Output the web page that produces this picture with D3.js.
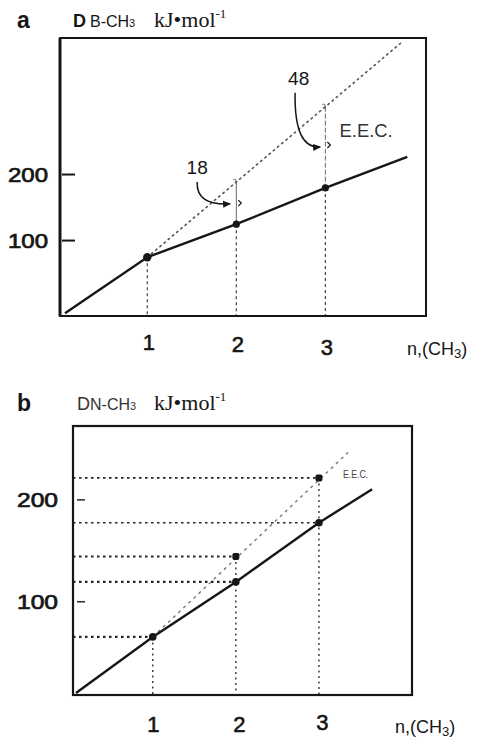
<!DOCTYPE html>
<html><head><meta charset="utf-8">
<script src="https://cdn.jsdelivr.net/npm/d3@7/dist/d3.min.js"></script>
<style>body{margin:0;background:#fff}</style>
</head><body><svg id="c" width="481" height="740"></svg>
<script>
// ---------- data ----------
const nTicks = [1, 2, 3];
const yTickValues = [100, 200];
const xAxisTitle = "n,(CH";
// panel a : D(B-CH3)
const aMeasured = [74, 124, 179];                 // solid points at n = 1,2,3
const aSolidLine = [[0.076, -11], [1, 74], [2, 124], [3, 179], [3.92, 226]];
const aEECLine = [[1, 74], [3.87, 401]];          // dotted extrapolation
const aEECAtN = [74, 188, 302];                   // dotted line value at n = 1,2,3
const aGapLabels = ["18", "48"];
const aGapN = [2, 3];
const aArrowStart = [[1.56, 188], [2.66, 323]];
const aArrowEnd = [[1.93, 155], [2.94, 241]];
const aLabelPos = [[1.56, 200], [2.70, 335]];
const aMarkValue = [156, 244];
const aEECLabelPos = [3.16, 256];
// panel b : D(N-CH3)
const bMeasured = [65, 119, 177];
const bSolidLine = [[0.076, 10], [1, 65], [2, 119], [3, 177], [3.64, 210]];
const bEEC = [65, 144, 221];
const bEECLine = [[1, 65], [3.35, 246]];
const bEECLabelPos = [3.29, 221];

// ---------- setup ----------
const svg = d3.select("#c");
const sans = "'Liberation Sans', Arial, Helvetica, sans-serif";
const serif = "'Liberation Serif', 'Times New Roman', serif";
const ink = "#161616";

const defs = svg.append("defs");
defs.append("marker").attr("id", "ah").attr("viewBox", "0 0 8 8")
  .attr("refX", 7).attr("refY", 4).attr("markerWidth", 8).attr("markerHeight", 8)
  .attr("markerUnits", "userSpaceOnUse").attr("orient", "auto")
  .append("path").attr("d", "M0,0.5 L8,4 L0,7.5 Z").attr("fill", ink);

function title(g, letter, base, dWeight, subColor, y) {
  g.append("text").attr("x", 17).attr("y", y + 1).attr("font-family", sans)
    .attr("font-weight", "bold").attr("font-size", 23).attr("fill", ink).text(letter);
  const t = g.append("text").attr("x", letter === "b" ? 77 : 73).attr("y", y)
    .attr("font-family", sans).attr("fill", subColor);
  t.append("tspan").attr("font-size", 18).attr("font-weight", dWeight).text("D");
  t.append("tspan").attr("font-size", 16).attr("dx", letter === "a" ? 4 : 0).text(base);
  t.append("tspan").attr("font-size", 11).text("3");
  const u = g.append("text").attr("x", 154).attr("y", y).attr("font-family", serif)
    .attr("font-size", 22).attr("fill", ink);
  u.append("tspan").text("kJ\u2022mol");
  u.append("tspan").attr("font-size", 13).attr("dy", -9).text("-1");
}

function xTitle(g, x, y) {
  const t = g.append("text").attr("x", x).attr("y", y).attr("font-family", sans)
    .attr("font-size", 18).attr("fill", ink);
  t.append("tspan").text(xAxisTitle);
  t.append("tspan").attr("font-size", 13).attr("dy", 3).text("3");
  t.append("tspan").attr("dy", -3).text(")");
}

function lineGen(x, y) { return d3.line().x(d => x(d[0])).y(d => y(d[1])); }

// ================= PANEL A =================
const xA = d3.scaleLinear().domain([0.02, 4.13]).range([60, 426]);
const yA = d3.scaleLinear().domain([-15, 406]).range([316, 38]);
const gA = svg.append("g");
title(gA, "a", "B-CH", "bold", ink, 27);

// vertical dashed drop lines
gA.selectAll(".drop").data(nTicks).join("line")
  .attr("x1", d => xA(d)).attr("x2", d => xA(d))
  .attr("y1", (d, i) => yA(aMeasured[i])).attr("y2", yA(yA.domain()[0]))
  .attr("stroke", "#444").attr("stroke-width", 1.2).attr("stroke-dasharray", "3,3");
// E.E.C. gap lines above points
gA.selectAll(".gap").data(aGapN).join("line")
  .attr("x1", d => xA(d)).attr("x2", d => xA(d))
  .attr("y1", (d, i) => yA(aEECAtN[d - 1])).attr("y2", d => yA(aMeasured[d - 1]))
  .attr("stroke", "#666").attr("stroke-width", 1).attr("stroke-dasharray", (d, i) => i === 0 ? null : "5,2");
// small hooks at top of gap lines
gA.selectAll(".hook").data(aGapN).join("path")
  .attr("d", d => `M${xA(d) - 3},${yA(aEECAtN[d - 1]) - 2} q3,-2 3,3`)
  .attr("fill", "none").attr("stroke", "#555").attr("stroke-width", 1);
// small ">" marks
gA.selectAll(".mark").data(aGapN).join("path")
  .attr("d", (d, i) => `M${xA(d) + 2},${yA(aMarkValue[i]) - 3} l3,3 l-3,3`)
  .attr("fill", "none").attr("stroke", ink).attr("stroke-width", 1.2);

// dotted extrapolation
gA.append("path").datum(aEECLine).attr("d", lineGen(xA, yA))
  .attr("fill", "none").attr("stroke", "#555").attr("stroke-width", 1.6)
  .attr("stroke-dasharray", "1.5,4").attr("stroke-linecap", "round");
// solid line
gA.append("path").datum(aSolidLine).attr("d", lineGen(xA, yA))
  .attr("fill", "none").attr("stroke", ink).attr("stroke-width", 2.4);
// points
gA.selectAll(".pt").data(aMeasured).join("circle")
  .attr("cx", (d, i) => xA(nTicks[i])).attr("cy", d => yA(d))
  .attr("r", (d, i) => i === 0 ? 4.2 : 3.6).attr("fill", ink);

// arrows
gA.selectAll(".arr").data(aArrowStart).join("path")
  .attr("d", (d, i) => {
    const p = d3.path();
    const s = [xA(d[0]), yA(d[1])], e = [xA(aArrowEnd[i][0]), yA(aArrowEnd[i][1])];
    p.moveTo(s[0], s[1]);
    p.quadraticCurveTo(s[0] - 1, e[1] + 2, e[0], e[1]);
    return p.toString();
  })
  .attr("fill", "none").attr("stroke", ink).attr("stroke-width", 1.5).attr("marker-end", "url(#ah)");
gA.selectAll(".gl").data(aGapLabels).join("text")
  .attr("x", (d, i) => xA(aLabelPos[i][0])).attr("y", (d, i) => yA(aLabelPos[i][1]))
  .attr("text-anchor", "middle").attr("font-family", sans).attr("font-size", 19)
  .attr("fill", ink).text(d => d);
gA.append("text").attr("x", xA(aEECLabelPos[0])).attr("y", yA(aEECLabelPos[1]))
  .attr("font-family", sans).attr("font-size", 18).attr("fill", "#333")
  .attr("textLength", 53).attr("lengthAdjust", "spacingAndGlyphs").text("E.E.C.");

// frame
gA.append("rect").attr("x", xA.range()[0]).attr("y", yA.range()[1])
  .attr("width", xA.range()[1] - xA.range()[0]).attr("height", yA.range()[0] - yA.range()[1])
  .attr("fill", "none").attr("stroke", ink).attr("stroke-width", 2);
gA.append("line").attr("x1", xA.range()[0]).attr("x2", xA.range()[0])
  .attr("y1", yA.range()[1]).attr("y2", yA.range()[0]).attr("stroke", ink).attr("stroke-width", 3);

// axes
const axA = gA.append("g").attr("transform", `translate(${xA.range()[0] + 2},0)`)
  .call(d3.axisLeft(yA).tickValues(yTickValues).tickSize(-13).tickPadding(14).tickFormat(d3.format("d")));
axA.select(".domain").remove();
axA.selectAll("line").attr("stroke", ink).attr("stroke-width", 2);
axA.selectAll("text").attr("font-family", sans).attr("font-size", 20).attr("fill", ink)
  .attr("stroke", ink).attr("stroke-width", 0.7)
  .attr("textLength", 40).attr("lengthAdjust", "spacingAndGlyphs").attr("dy", "0.36em");
const bxA = gA.append("g").attr("transform", `translate(0,${yA.range()[0]})`)
  .call(d3.axisBottom(xA).tickValues(nTicks).tickSize(0).tickPadding(18).tickFormat(d3.format("d")));
bxA.select(".domain").remove();
bxA.selectAll("text").attr("font-family", sans).attr("font-size", 22).attr("fill", ink)
  .attr("stroke", ink).attr("stroke-width", 0.6)
  .attr("transform", (d, i) => `translate(1,${[0, 2, 5][i]})`);
xTitle(gA, 407, 355);

// ================= PANEL B =================
const xB = d3.scaleLinear().domain([0.04, 4.12]).range([73, 412]);
const yB = d3.scaleLinear().domain([8, 272]).range([695, 426]);
const gB = svg.append("g");
title(gB, "b", "N-CH", "normal", "#333", 410);

// horizontal dotted guides
const hLevels = [bMeasured[0], bMeasured[1], bEEC[1], bMeasured[2], bEEC[2]];
const hN = [1, 2, 2, 3, 3];
const hW = [2.2, 2.4, 2, 1.6, 1.8];
gB.selectAll(".h").data(hLevels).join("line")
  .attr("x1", xB.range()[0]).attr("x2", (d, i) => xB(hN[i]))
  .attr("y1", d => yB(d)).attr("y2", d => yB(d))
  .attr("stroke", "#222").attr("stroke-width", (d, i) => hW[i]).attr("stroke-dasharray", "2.5,3.5");
// vertical dotted drops
gB.selectAll(".v").data(nTicks).join("line")
  .attr("x1", d => xB(d)).attr("x2", d => xB(d))
  .attr("y1", (d, i) => yB(bEEC[i])).attr("y2", yB(yB.domain()[0]))
  .attr("stroke", "#333").attr("stroke-width", 1.4).attr("stroke-dasharray", "2,3.5");
// dotted extrapolation
gB.append("path").datum(bEECLine).attr("d", lineGen(xB, yB))
  .attr("fill", "none").attr("stroke", "#777").attr("stroke-width", 1.4)
  .attr("stroke-dasharray", "3,4");
// solid line
gB.append("path").datum(bSolidLine).attr("d", lineGen(xB, yB))
  .attr("fill", "none").attr("stroke", ink).attr("stroke-width", 2.4);
// points
gB.selectAll(".pm").data(bMeasured).join("circle")
  .attr("cx", (d, i) => xB(nTicks[i])).attr("cy", d => yB(d)).attr("r", 3.8).attr("fill", ink);
gB.selectAll(".pe").data(bEEC.slice(1)).join("rect")
  .attr("x", (d, i) => xB(nTicks[i + 1]) - 3.5).attr("y", d => yB(d) - 3.5)
  .attr("width", 7).attr("height", 7).attr("rx", 2).attr("fill", ink);
gB.append("text").attr("x", xB(bEECLabelPos[0])).attr("y", yB(bEECLabelPos[1]))
  .attr("font-family", sans).attr("font-size", 11).attr("fill", "#444")
  .attr("textLength", 25).attr("lengthAdjust", "spacingAndGlyphs").text("E.E.C.");

// frame
gB.append("rect").attr("x", xB.range()[0]).attr("y", yB.range()[1])
  .attr("width", xB.range()[1] - xB.range()[0]).attr("height", yB.range()[0] - yB.range()[1])
  .attr("fill", "none").attr("stroke", ink).attr("stroke-width", 2.2);

// axes
const axB = gB.append("g").attr("transform", `translate(${xB.range()[0] + 4},0)`)
  .call(d3.axisLeft(yB).tickValues(yTickValues).tickSize(-8).tickPadding(19).tickFormat(d3.format("d")));
axB.select(".domain").remove();
axB.selectAll("line").attr("stroke", "#333").attr("stroke-width", 1.6);
axB.selectAll("text").attr("font-family", sans).attr("font-size", 20).attr("fill", ink)
  .attr("stroke", ink).attr("stroke-width", 0.7)
  .attr("textLength", 41).attr("lengthAdjust", "spacingAndGlyphs").attr("dy", "0.36em");
const bxB = gB.append("g").attr("transform", `translate(0,${yB.range()[0]})`)
  .call(d3.axisBottom(xB).tickValues(nTicks).tickSize(0).tickPadding(20).tickFormat(d3.format("d")));
bxB.select(".domain").remove();
bxB.selectAll("text").attr("font-family", sans).attr("font-size", 22).attr("fill", ink)
  .attr("stroke", ink).attr("stroke-width", 0.6)
  .attr("transform", (d, i) => `translate(${[0, 3, 3][i]},${[1, 1, -1][i]})`);
xTitle(gB, 395, 733);
</script>
</body></html>
